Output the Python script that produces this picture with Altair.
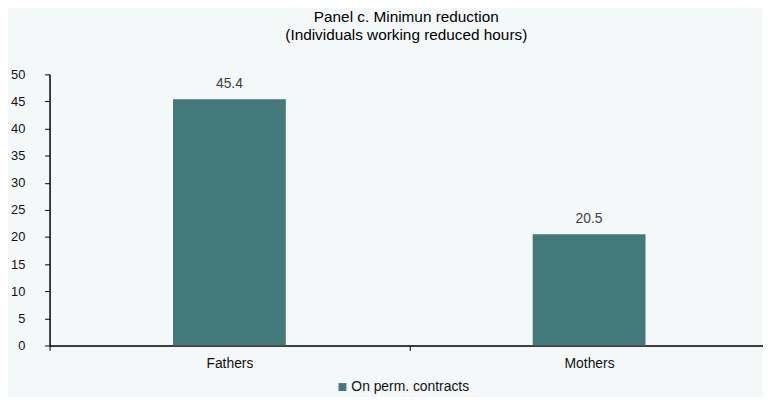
import altair as alt
import pandas as pd

categories = ["Fathers", "Mothers"]
values = [45.4, 20.5]
series = ["On perm. contracts", "On perm. contracts"]
y_ticks = [0, 5, 10, 15, 20, 25, 30, 35, 40, 45, 50]

df = pd.DataFrame({"group": categories, "value": values, "series": series})

FONT = "Liberation Sans"
BAR = "#44797A"

base = alt.Chart(df).encode(
    x=alt.X(
        "group:N",
        sort=categories,
        scale=alt.Scale(paddingInner=0, paddingOuter=0, range=[0, 727]),
        axis=alt.Axis(
            title=None,
            labelAngle=0,
            labelFont=FONT,
            labelFontSize=14,
            labelColor="#111111",
            labelPadding=6,
            domainColor="#000000",
            domainWidth=1.5,
            tickColor="#000000",
            tickSize=5,
            tickBand="extent",
            grid=False,
        ),
    ),
    y=alt.Y(
        "value:Q",
        scale=alt.Scale(domain=[0, 50], nice=False),
        axis=alt.Axis(
            title=None,
            values=y_ticks,
            labelOverlap=False,
            labelFont=FONT,
            labelFontSize=13,
            labelColor="#111111",
            labelPadding=20,
            domainColor="#000000",
            domainWidth=1.5,
            tickColor="#000000",
            tickSize=5,
            grid=False,
        ),
    ),
)

bars = base.mark_bar(size=114, color=BAR).encode(
    color=alt.Color(
        "series:N",
        scale=alt.Scale(range=[BAR]),
        legend=alt.Legend(
            title=None,
            orient="none",
            legendX=289,
            legendY=309,
            direction="horizontal",
            symbolType="square",
            symbolSize=64,
            symbolStrokeWidth=0,
            labelFont=FONT,
            labelFontSize=14,
            labelColor="#111111",
            labelOffset=2,
            padding=0,
        ),
    ),
)

labels = base.mark_text(
    dy=-11, baseline="alphabetic", font=FONT, fontSize=14, color="#404040"
).encode(
    text=alt.Text("value:Q", format=".1f"),
)

chart = (
    alt.layer(bars, labels)
    .properties(
        width=721,
        height=274,
        autosize=alt.AutoSizeParams(type="none"),
        background="#F4F8F9",
        padding={"left": 42, "top": 65, "right": 0, "bottom": 50},
        title=alt.TitleParams(
            text=["Panel c. Minimun reduction", "(Individuals working reduced hours)"],
            font=FONT,
            fontSize=15.5,
            fontWeight="normal",
            color="#000000",
            lineHeight=18,
            anchor="middle",
            offset=25,
        ),
    )
    .configure_view(stroke=None)
)

chart.save("out.html", embed_options={"renderer": "svg", "actions": False})
